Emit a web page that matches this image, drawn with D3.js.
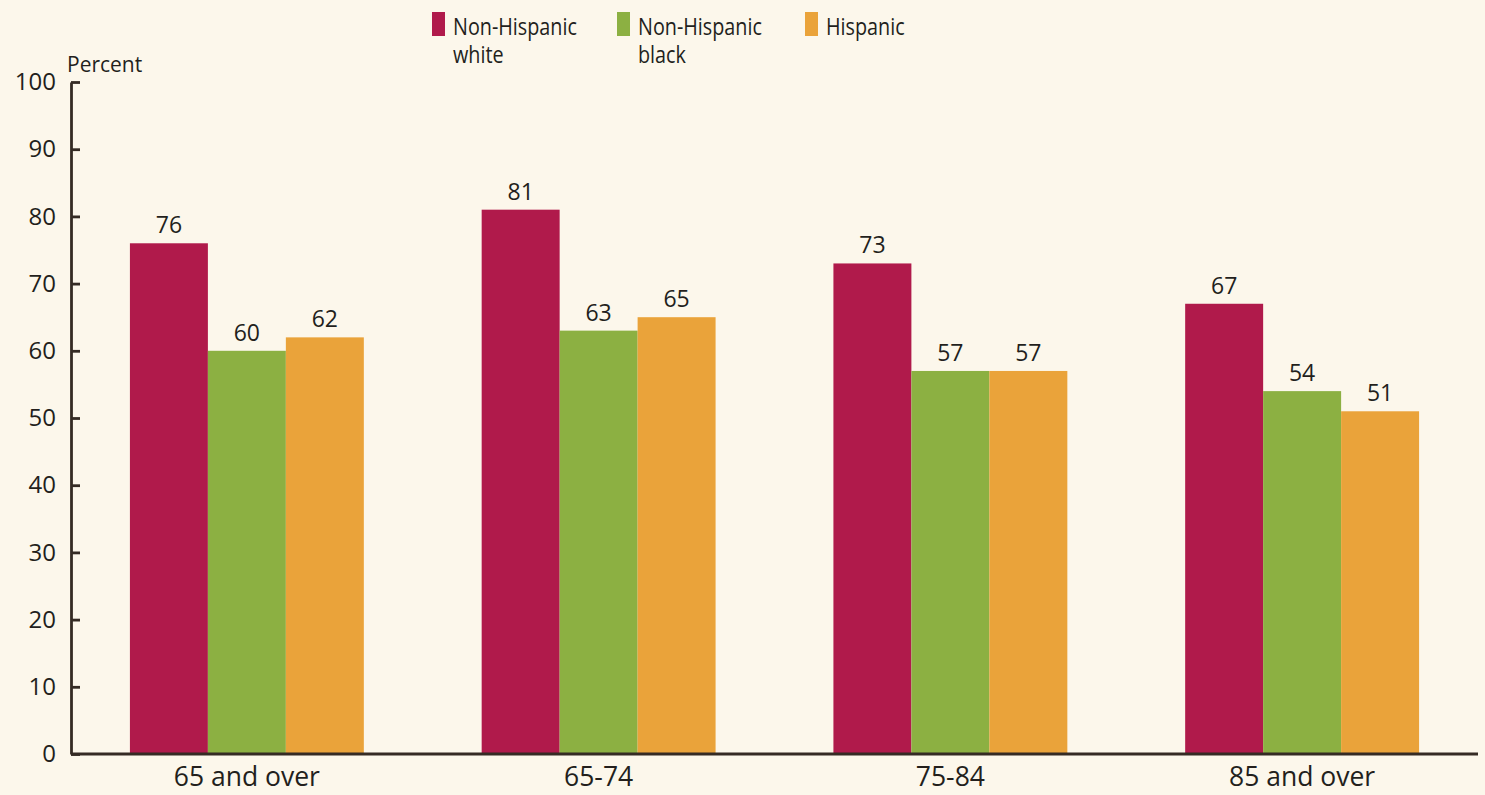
<!DOCTYPE html>
<html lang="en">
<head>
  <meta charset="UTF-8">
  <title>Percent by age group and race/ethnicity</title>
  <script src="https://d3js.org/d3.v7.min.js"></script>
  <style>
    body { margin: 0; background: #fcf7eb; }
    svg { display: block; font-family: "Open Sans", "Noto Sans", sans-serif; }
    .tick text { font-size: 24px; fill: #231f1c; }
  </style>
</head>
<body>
  <svg width="1485" height="795"></svg>

  <script>
    // chart data
    const ageGroups = ["65 and over", "65-74", "75-84", "85 and over"];
    const groups = ["Non-Hispanic white", "Non-Hispanic black", "Hispanic"];
    const legendLines = [["Non-Hispanic", "white"], ["Non-Hispanic", "black"], ["Hispanic"]];
    const whiteVals = [76, 81, 73, 67];
    const blackVals = [60, 63, 57, 54];
    const hispanicVals = [62, 65, 57, 51];
    const yTicks = [0, 10, 20, 30, 40, 50, 60, 70, 80, 90, 100];

    const colors = ["#b01a4b", "#8cb042", "#eaa33a"];

    const svg = d3.select("svg");
    const x0 = 71, x1 = 1478, yBase = 754, yTop = 82;

    const x = d3.scaleBand()
        .domain(ageGroups)
        .range([x0, x1])
        .paddingInner(0.335)
        .paddingOuter(0.1675);

    const xs = d3.scaleBand()
        .domain(groups)
        .range([0, x.bandwidth()]);

    const y = d3.scaleLinear()
        .domain([0, 100])
        .range([yBase, yTop]);

    const color = d3.scaleOrdinal().domain(groups).range(colors);

    const rows = ageGroups.map((a, i) => ({
      age: a,
      values: [whiteVals[i], blackVals[i], hispanicVals[i]].map((v, j) => ({ key: groups[j], value: v }))
    }));

    // bars
    const g = svg.append("g").selectAll("g")
        .data(rows)
        .enter().append("g")
        .attr("transform", d => `translate(${x(d.age)},0)`);

    g.selectAll("rect")
        .data(d => d.values)
        .enter().append("rect")
        .attr("x", d => xs(d.key))
        .attr("width", xs.bandwidth())
        .attr("y", d => y(d.value))
        .attr("height", d => yBase - y(d.value))
        .attr("fill", d => color(d.key));

    // value labels
    g.selectAll("text")
        .data(d => d.values)
        .enter().append("text")
        .attr("x", d => xs(d.key) + xs.bandwidth() / 2)
        .attr("y", d => y(d.value) - 10)
        .attr("text-anchor", "middle")
        .style("font-size", "23px")
        .style("fill", "#231f1c")
        .text(d => d.value);

    // y axis, ticks pointing into the plot
    const yAxis = svg.append("g")
        .attr("transform", `translate(${x0},0)`)
        .call(d3.axisLeft(y).tickValues(yTicks).tickSizeInner(-9).tickSizeOuter(0).tickPadding(15))
        .attr("font-family", null)
        .attr("font-size", null);
    yAxis.selectAll("line, path").attr("stroke", "#352b24").attr("stroke-width", 2.8);

    // baseline
    svg.append("line")
        .attr("x1", x0).attr("x2", x1)
        .attr("y1", yBase).attr("y2", yBase)
        .attr("stroke", "#352b24")
        .attr("stroke-width", 2.8);

    // category labels
    svg.append("g").selectAll("text")
        .data(ageGroups)
        .enter().append("text")
        .attr("x", d => x(d) + x.bandwidth() / 2)
        .attr("y", 786)
        .attr("text-anchor", "middle")
        .style("font-size", "26.5px")
        .style("fill", "#231f1c")
        .text(d => d);

    svg.append("text")
        .attr("x", 67).attr("y", 72)
        .style("font-size", "21px")
        .style("fill", "#231f1c")
        .text("Percent");

    // legend
    const legendX = [432, 617, 805];
    const legend = svg.append("g").selectAll("g")
        .data(groups)
        .enter().append("g")
        .attr("transform", (d, i) => `translate(${legendX[i]},12)`);

    legend.append("rect")
        .attr("width", 13).attr("height", 24)
        .attr("fill", d => color(d));

    legend.append("text")
        .attr("transform", "translate(21,0) scale(0.86,1)")
        .style("font-size", "23px")
        .style("fill", "#231f1c")
        .selectAll("tspan")
        .data((d, i) => legendLines[i])
        .enter().append("tspan")
        .attr("x", 0)
        .attr("y", (d, i) => 23 + i * 28)
        .text(d => d);
  </script>
</body>
</html>
